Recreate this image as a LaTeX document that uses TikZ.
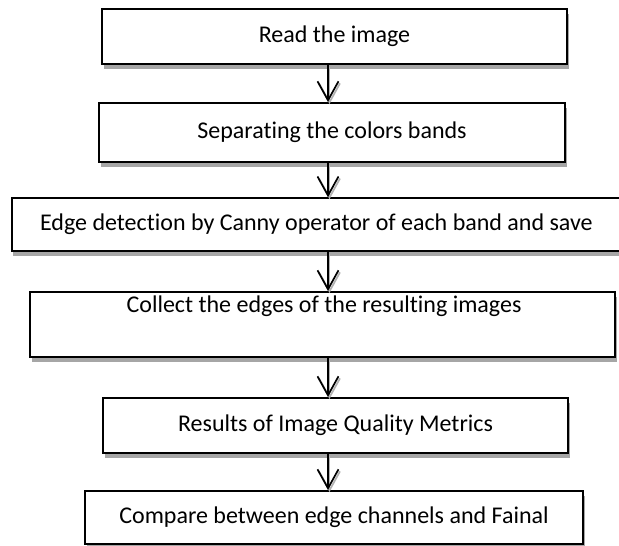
\documentclass[tikz,border=0pt]{standalone}
\usepackage{fontspec}
\setmainfont{Carlito}[Ligatures={NoCommon}]
\usetikzlibrary{arrows.meta,shadows}
\begin{document}
\begin{tikzpicture}[x=1pt,y=-1pt,
  stepbox/.style={draw=black, line width=1.9pt, fill=white, inner sep=0pt,
    font=\fontsize{24}{29}\selectfont,
    drop shadow={shadow xshift=1.5pt, shadow yshift=-4.5pt, fill=black!35, opacity=1}},
  lbl/.style={inner sep=0pt, font=\fontsize{24}{29}\selectfont},
  flow/.style={draw=black, line width=1.7pt,
    -{Straight Barb[length=19pt,width=21pt]},
    preaction={draw=black!30, line width=1.7pt, -{Straight Barb[length=19pt,width=21pt]},
      transform canvas={shift={(1.5pt,-2pt)}}}}]
\useasboundingbox[fill=white] (0,0) rectangle (619,546);
\coordinate (ax) at (328,0);
\node[stepbox, minimum width=465pt, minimum height=55pt] (b1) at (334.5,36.5) {Read the image};
\node[stepbox, minimum width=466pt, minimum height=59pt] (b2) at (332,132.5) {Separating the colors bands};
\node[stepbox, line width=1.5pt, minimum width=609pt, minimum height=53pt] (b3) at (316.4,224.5) {Edge detection by Canny operator of each band and save};
\node[stepbox, minimum width=585pt, minimum height=65pt] (b4) at (322.5,324.5) {};
\node[lbl] (t4) at (324,306) {Collect the edges of the resulting images};
\node[stepbox, minimum width=465pt, minimum height=55pt] (b5) at (335.5,425.5) {Results of Image Quality Metrics};
\node[stepbox, minimum width=498pt, minimum height=53pt] (b6) at (334,517.5) {Compare between edge channels and Fainal};
\draw[flow] (b1.south -| ax) -- (b2.north -| ax);
\draw[flow] (b2.south -| ax) -- (b3.north -| ax);
\draw[flow] (b3.south -| ax) -- (b4.north -| ax);
\draw[flow] (b4.south -| ax) -- (b5.north -| ax);
\draw[flow] (b5.south -| ax) -- (b6.north -| ax);
\end{tikzpicture}
\end{document}
